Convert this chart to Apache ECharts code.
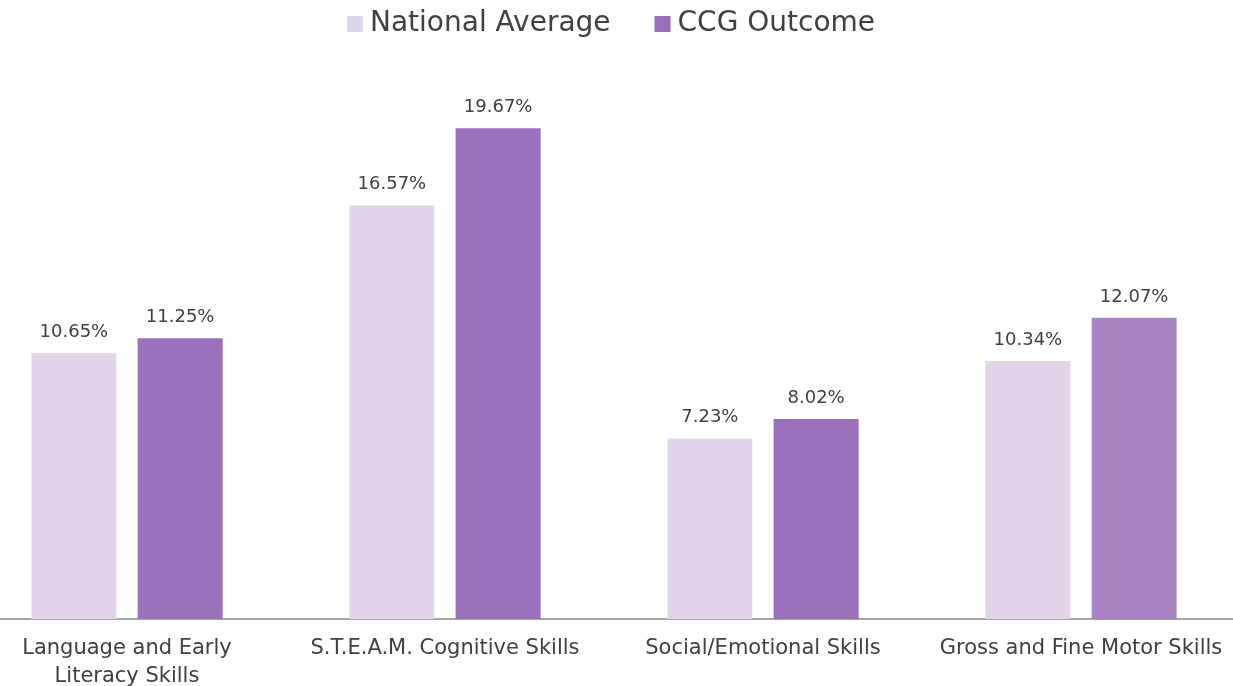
<!DOCTYPE html>
<html>
<head>
<meta charset="utf-8">
<script src="https://fastly.jsdelivr.net/npm/echarts@6/dist/echarts.min.js"></script>
<style>
  html, body { margin: 0; padding: 0; background: #fff; overflow: hidden; }
  #chart { width: 1233px; height: 686px; }
</style>
</head>
<body>
<div id="chart"></div>
<script>
// 카테고리 / 시리즈 값
const categories = [
  "Language and Early\nLiteracy Skills",
  "S.T.E.A.M. Cognitive Skills",
  "Social/Emotional Skills",
  "Gross and Fine Motor Skills",
];
const nationalAverage = [10.65, 16.57, 7.23, 10.34];
const ccgOutcome = [11.25, 19.67, 8.02, 12.07];

const FONT = "DejaVu Sans";
const TEXT = "#404040";
const LIGHT = "#E1D5EB";
const PURPLE = "#9B70BB";
const PURPLE_ALT = "#A983C4";

const chart = echarts.init(document.getElementById("chart"));

const labelOpt = {
  show: true,
  position: "top",
  distance: 12,
  color: TEXT,
  fontSize: 18,
  fontFamily: FONT,
  formatter: (p) => p.value.toFixed(2) + "%",
};

chart.setOption({
  animation: false,
  textStyle: { fontFamily: FONT },
  legend: {
    top: 5,
    left: 342,
    itemWidth: 16,
    itemHeight: 16,
    itemGap: 44,
    icon: "rect",
    textStyle: { fontSize: 28, color: TEXT, fontFamily: FONT, padding: [0, 0, 0, 2] },
    data: ["National Average", "CCG Outcome"],
  },
  grid: { left: -32, right: -7, top: 120, bottom: 67, outerBoundsMode: "none", containLabel: false },
  xAxis: {
    type: "category",
    data: categories,
    axisLine: { lineStyle: { color: "#A6A6A6", width: 2 } },
    axisTick: { show: false },
    axisLabel: {
      color: TEXT,
      fontSize: 21,
      lineHeight: 28,
      margin: 16,
      interval: 0,
      fontFamily: FONT,
    },
  },
  yAxis: {
    type: "value",
    min: 0,
    max: 20,
    show: false,
    splitLine: { show: false },
  },
  series: [
    {
      name: "National Average",
      type: "bar",
      barWidth: 85,
      barGap: "25%",
      itemStyle: { color: LIGHT },
      label: labelOpt,
      data: nationalAverage,
    },
    {
      name: "CCG Outcome",
      type: "bar",
      barWidth: 85,
      barGap: "25%",
      itemStyle: { color: PURPLE },
      label: labelOpt,
      data: ccgOutcome.map((v, i) =>
        i === 3 ? { value: v, itemStyle: { color: PURPLE_ALT } } : v
      ),
    },
  ],
});
</script>
</body>
</html>
